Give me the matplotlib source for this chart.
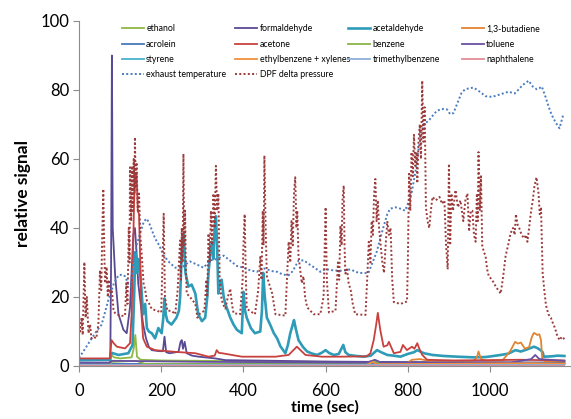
"""Relative signal of exhaust species vs time, with exhaust temperature and DPF delta pressure."""

import matplotlib
matplotlib.use('Agg')
import matplotlib.pyplot as plt
from matplotlib.legend import Legend

plt.rcParams['font.family'] = ['Lato', 'DejaVu Sans']

# ---- data (time in s, relative signal) ----
ethanol_t = [0, 75, 79, 85, 100, 128, 133, 137, 141, 150, 200, 300, 400, 600, 700, 720, 740, 800, 1000, 1181]
ethanol_v = [0.8, 0.8, 3.2, 2.5, 2.2, 2.5, 5, 9, 2.7, 1.8, 1.6, 1.5, 1.4, 1.2, 1.0, 1.5, 0.9, 0.8, 0.7, 0.7]

formaldehyde_t = [0, 76, 78, 80, 82, 88, 96, 108, 116, 124, 132, 136, 140, 144, 150, 156, 163, 170, 177,
                  195, 204, 208, 212, 220, 242, 247, 250, 253, 257, 262, 275, 291, 331, 356, 420, 478,
                  591, 700, 900, 1181]
formaldehyde_v = [0.8, 0.8, 30, 90, 40, 26, 15, 10.5, 9.5, 17, 38, 40, 33, 24, 18, 12, 8, 5.5, 4.6,
                  4.3, 4.3, 8.5, 4, 3.7, 4.1, 7, 7.5, 5, 7, 3.7, 3, 2.7, 2.2, 1.7, 1.6, 1.5,
                  1.3, 1.2, 1.1, 1.0]

acetaldehyde_t = [0, 75, 78, 80, 96, 120, 130, 134, 137, 139, 141, 144, 148, 152, 156, 161, 165, 170, 177,
                  185, 193, 201, 205, 208, 211, 215, 225, 237, 243, 246, 249, 252, 255, 259, 266, 274,
                  283, 290, 299, 307, 312, 315, 319, 323, 327, 330, 333, 336, 339, 343, 347, 352, 356,
                  362, 368, 376, 384, 396, 400, 404, 408, 418, 428, 441, 445, 448, 452, 457, 465, 474,
                  482, 490, 502, 508, 514, 520, 523, 527, 534, 545, 555, 567, 579, 590, 600, 608, 620,
                  632, 643, 648, 656, 675, 693, 710, 725, 735, 750, 765, 782, 800, 815, 823, 839, 860,
                  888, 920, 961, 990, 1026, 1045, 1062, 1075, 1090, 1107, 1115, 1123, 1128, 1131, 1150,
                  1165, 1181]
acetaldehyde_v = [1.7, 1.8, 3.5, 3.8, 3.2, 3.7, 6, 20, 33, 30, 27, 31, 28, 22, 15, 18, 11, 10, 9.5,
                  8, 11, 9.5, 14, 19.6, 15, 13, 12, 14, 16, 20, 30, 36.4, 38, 27, 23, 23.6,
                  21, 15, 13, 14, 20, 27, 32, 36, 31, 40, 43.4, 35, 21, 24, 25, 20, 18,
                  16, 14, 12, 10.5, 9.5, 21.5, 16, 14, 11, 9.5, 10, 16, 27, 20, 14, 12, 9.5,
                  8, 5.7, 3.7, 6, 9.5, 12, 13.3, 11, 7.5, 5.5, 4.2, 3.6, 3.2, 3.8, 4.6, 3.8, 3.2,
                  3.5, 6.1, 4, 3.2, 2.9, 2.7, 3, 4.6, 4, 3.2, 3, 2.7, 3.5, 4, 4.6, 3.7, 3.2,
                  2.9, 2.7, 2.5, 2.6, 3.2, 3.6, 4.6, 4.2, 4.8, 5.6, 5.2, 4.6, 4, 2.7, 2.8,
                  3.0, 2.9]

butadiene_t = [0, 790, 800, 810, 830, 850, 960, 968, 972, 978, 990, 1030, 1040, 1050, 1061, 1068, 1075,
               1085, 1095, 1102, 1107, 1115, 1120, 1124, 1127, 1135, 1181]
butadiene_v = [0.2, 0.2, 1.0, 1.8, 2.0, 1.5, 1.5, 2.5, 4.2, 2.0, 1.5, 1.6, 3, 4.5, 7.0, 6.5, 6.8,
               5, 5.5, 8.5, 9.6, 9, 9.2, 7.5, 2, 1.2, 1.2]

acrolein_t = [0, 300, 720, 1100, 1181]
acrolein_v = [0.6, 0.6, 0.8, 0.9, 0.7]

acetone_t = [0, 75, 79, 85, 92, 112, 124, 128, 131, 134, 137, 140, 143, 146, 149, 152, 156, 165, 185,
             234, 283, 315, 330, 335, 340, 348, 396, 478, 510, 530, 551, 591, 636, 700, 709, 717,
             723, 727, 733, 741, 750, 754, 759, 766, 782, 788, 798, 810, 816, 823, 828, 835, 847,
             912, 1075, 1181]
acetone_v = [2.2, 2.2, 7.5, 6.5, 5.6, 5.1, 6.6, 15, 30, 48, 55, 55.7, 45, 44, 30, 15, 8, 5.6, 4.6,
             4.1, 3.7, 2.7, 3, 4.6, 3.8, 3.7, 2.7, 2.7, 3.2, 5.6, 3.2, 2.7, 2.7, 2.8, 3.7, 7.5,
             12, 15.4, 10.4, 5.6, 6, 7.0, 5.6, 3.7, 4.1, 6.1, 4.6, 5.6, 5, 6.6, 5, 3.2, 1.8,
             1.6, 1.8, 1.6]

benzene_t = [0, 75, 80, 140, 160, 700, 720, 735, 1181]
benzene_v = [0.4, 0.4, 1.2, 1.5, 0.6, 0.5, 1.5, 0.6, 0.5]

toluene_t = [0, 75, 80, 300, 700, 720, 735, 1050, 1100, 1110, 1120, 1181]
toluene_v = [1.0, 1.0, 1.5, 1.2, 1.0, 1.8, 1.0, 1.0, 2, 3.2, 2, 1.5]

styrene_t = [0, 1181]
styrene_v = [0.3, 0.3]

ethylbenzene_t = [0, 700, 715, 725, 1100, 1181]
ethylbenzene_v = [0.3, 0.3, 1.2, 0.5, 0.8, 0.6]

trimethylbenzene_t = [0, 1181]
trimethylbenzene_v = [0.2, 0.2]

naphthalene_t = [0, 1181]
naphthalene_v = [0.1, 0.1]

temp_t = [0, 20, 39, 55, 71, 85, 96, 105, 112, 120, 126, 132, 140, 150, 158, 165, 172, 185, 195, 206,
          220, 234, 250, 260, 270, 285, 303, 319, 335, 352, 368, 384, 400, 417, 433, 445, 457, 470,
          482, 496, 510, 520, 534, 547, 560, 573, 587, 599, 620, 640, 660, 680, 704, 714, 724, 740,
          750, 757, 770, 785, 793, 800, 809, 818, 825, 832, 838, 850, 860, 870, 882, 895, 903, 911,
          920, 930, 939, 950, 960, 975, 989, 1005, 1024, 1045, 1060, 1066, 1080, 1094, 1104, 1114,
          1120, 1126, 1135, 1143, 1150, 1160, 1169, 1178]
temp_v = [2.3, 6, 9.5, 12, 19, 24, 26.3, 26.5, 26, 23.7, 23, 30, 35, 39, 42, 42.7, 41, 37, 35, 32,
          30, 28.5, 28.5, 29.5, 30.3, 29.5, 28.5, 30.6, 31, 32, 30.5, 29, 28.5, 27.7, 27.3, 28.5, 28, 27.5,
          27.3, 26.5, 26.3, 27.5, 30.6, 30.6, 29.5, 28.5, 27.3, 28.1, 27.7, 27.6, 28, 27, 26.9, 30, 33, 40,
          44, 45.6, 46, 45.5, 45, 47, 50, 56, 62, 67, 70.1, 71, 72.5, 73.9, 74.5, 74.4, 73, 73.3,
          76, 79, 80.2, 80.5, 80.7, 79.5, 78.2, 78, 78.7, 79.5, 79, 79.7, 81.5, 82.7, 81, 80.2,
          80.5, 81, 78, 75, 72.8, 70.5, 68.9, 72.8]

dpf_t = [0, 3, 6, 9, 13, 16, 19, 23, 27, 30, 35, 42, 47, 51, 54, 56, 59, 62, 64, 67, 70, 72, 75, 80,
         84, 88, 100, 112, 115, 118, 121, 123, 124, 127, 129, 131, 133, 135, 136, 138, 140, 143, 146,
         149, 153, 157, 161, 165, 171, 177, 190, 200, 203, 206, 209, 215, 225, 234, 240, 243, 246,
         248, 250, 252, 254, 256, 258, 260, 262, 270, 283, 288, 295, 305, 310, 312, 315, 318, 321,
         324, 327, 330, 333, 336, 339, 341, 342, 346, 350, 356, 362, 368, 372, 376, 392, 398, 400,
         403, 406, 408, 428, 436, 441, 444, 447, 449, 451, 454, 457, 462, 470, 474, 478, 502, 506,
         510, 514, 517, 520, 523, 526, 529, 531, 534, 538, 542, 546, 550, 555, 571, 587, 595, 598,
         600, 603, 608, 624, 630, 633, 636, 639, 641, 644, 646, 648, 652, 656, 661, 666, 672, 697,
         701, 705, 709, 712, 715, 718, 721, 724, 727, 730, 734, 738, 742, 746, 750, 754, 758, 762,
         766, 782, 798, 800, 803, 806, 809, 812, 815, 818, 821, 823, 826, 829, 832, 835, 838, 841,
         844, 848, 852, 856, 860, 868, 877, 883, 889, 893, 897, 900, 903, 906, 910, 916, 922, 928,
         935, 940, 945, 949, 953, 957, 961, 965, 968, 970, 972, 975, 978, 981, 985, 989, 993, 997,
         1005, 1014, 1020, 1026, 1032, 1038, 1044, 1050, 1056, 1060, 1063, 1067, 1071, 1077, 1083,
         1088, 1091, 1095, 1100, 1104, 1108, 1113, 1118, 1121, 1124, 1128, 1132, 1136, 1142, 1148,
         1153, 1158, 1163, 1169, 1175, 1181]
dpf_v = [12.8, 10, 14, 9, 30.1, 14, 20, 9.5, 12, 8, 8.5, 8, 12, 27.7, 22, 35, 51.3, 30, 24, 28.7, 20, 25, 21, 22,
         16, 15.3, 14.5, 14.6, 24, 18, 40, 30, 57.6, 42, 58, 45, 60, 50, 66.3, 52, 59, 45, 50,
         38, 31.6, 24, 22, 19, 18, 16.5, 16, 15.5, 30, 44.1, 20, 16, 16, 15, 22, 30, 36.4,
         25, 40, 30, 61.5, 35, 45, 28, 21, 20, 18, 14, 15.3, 16, 25, 20, 38.4, 30, 45,
         35, 50, 40, 58, 45, 50, 35, 26, 20, 18, 16.6, 20, 22.4, 18, 15.3, 15, 25, 35,
         44, 25, 16.6, 15, 22, 31.6, 25, 45, 35, 61, 40, 26, 24, 21, 18, 15, 14.6, 25,
         36, 30, 42, 35, 50, 54.7, 40, 45, 32, 28, 24, 26, 20, 17, 15, 15, 20, 35,
         46, 25, 15.5, 16, 30, 25, 40.7, 35, 48, 52.3, 35, 26.8, 28, 24, 22, 18, 15, 14.8,
         25, 36, 30, 42, 38, 50, 54.2, 42, 48, 40, 35, 30, 27, 35, 42, 38, 40, 25,
         18.5, 18, 18.7, 30, 55.7, 45, 62, 55, 67, 58, 62, 53, 65, 70, 60, 82.7, 65, 75,
         46, 42, 40, 45, 49, 48, 49, 47, 48, 35, 28, 58.6, 35, 50, 45, 51, 46, 48,
         42, 48, 50, 39, 45, 45, 38, 36, 50, 42, 62, 45, 55, 35, 33, 32, 28, 26,
         25, 23, 22, 21, 26, 32, 35, 38.5, 40, 38, 44, 41, 40, 38, 37,
         38, 36, 40, 45, 48, 52, 54.7, 50, 44, 46, 27, 22, 17.7, 15, 14,
         12.4, 11, 9, 7.5, 8.5, 7.8]

# (label, t, v, colour, width, style) in legend order, row by row
series = [
    ('ethanol', ethanol_t, ethanol_v, '#8DB843', 1.3, '-'),
    ('formaldehyde', formaldehyde_t, formaldehyde_v, '#5A4A94', 1.3, '-'),
    ('acetaldehyde', acetaldehyde_t, acetaldehyde_v, '#2E9CB8', 1.9, '-'),
    ('1,3-butadiene', butadiene_t, butadiene_v, '#E2842F', 1.3, '-'),
    ('acrolein', acrolein_t, acrolein_v, '#4A77BC', 1.3, '-'),
    ('acetone', acetone_t, acetone_v, '#C8413E', 1.3, '-'),
    ('benzene', benzene_t, benzene_v, '#86B545', 1.3, '-'),
    ('toluene', toluene_t, toluene_v, '#6A4FA3', 1.3, '-'),
    ('styrene', styrene_t, styrene_v, '#47B2CC', 1.3, '-'),
    ('ethylbenzene + xylenes', ethylbenzene_t, ethylbenzene_v, '#F3913E', 1.3, '-'),
    ('trimethylbenzene', trimethylbenzene_t, trimethylbenzene_v, '#8FAFD9', 1.3, '-'),
    ('naphthalene', naphthalene_t, naphthalene_v, '#E08C94', 1.3, '-'),
    ('exhaust temperature', temp_t, temp_v, '#4A7CC0', 1.4, (0, (1, 1.2))),
    ('DPF delta pressure', dpf_t, dpf_v, '#9B3A3A', 1.4, (0, (1, 1.2))),
]

fig = plt.figure(figsize=(5.71, 4.19), dpi=100)
ax = fig.add_axes([0.1384, 0.1265, 0.8616, 0.8234])

handles = {}
for label, t, v, col, lw, ls in series:
    line, = ax.plot(t, v, color=col, lw=lw, linestyle=ls, label=label)
    handles[label] = line

ax.set_xlim(0, 1197)
ax.set_ylim(0, 100)
ax.set_xticks([0, 200, 400, 600, 800, 1000])
ax.set_yticks([0, 20, 40, 60, 80, 100])
for s in ['top', 'right']:
    ax.spines[s].set_visible(False)
for s in ['left', 'bottom']:
    ax.spines[s].set_color('#8C8C8C')
ax.tick_params(direction='out', length=4, color='#8C8C8C', labelsize=12)
ax.tick_params(axis='x', pad=8)
ax.tick_params(axis='y', pad=3)
ax.set_xlabel('time (sec)', fontsize=11.5, fontweight='bold', labelpad=1)
ax.set_ylabel('relative signal', fontsize=12.5, fontweight='bold', labelpad=7)

# four legend columns, evenly spaced like the original
columns = [
    ['ethanol', 'acrolein', 'styrene', 'exhaust temperature'],
    ['formaldehyde', 'acetone', 'ethylbenzene + xylenes', 'DPF delta pressure'],
    ['acetaldehyde', 'benzene', 'trimethylbenzene'],
    ['1,3-butadiene', 'toluene', 'naphthalene'],
]
col_x = [0.2131, 0.4116, 0.6095, 0.8086]
for x, names in zip(col_x, columns):
    leg = Legend(ax, [handles[n] for n in names], names, loc='upper left',
                 bbox_to_anchor=(x, 0.942), bbox_transform=fig.transFigure,
                 frameon=False, fontsize=6.3, borderpad=0, borderaxespad=0,
                 handlelength=2.5, handletextpad=0.3, labelspacing=0.72)
    ax.add_artist(leg)

fig.savefig('out.png', dpi=100)
plt.close(fig)
